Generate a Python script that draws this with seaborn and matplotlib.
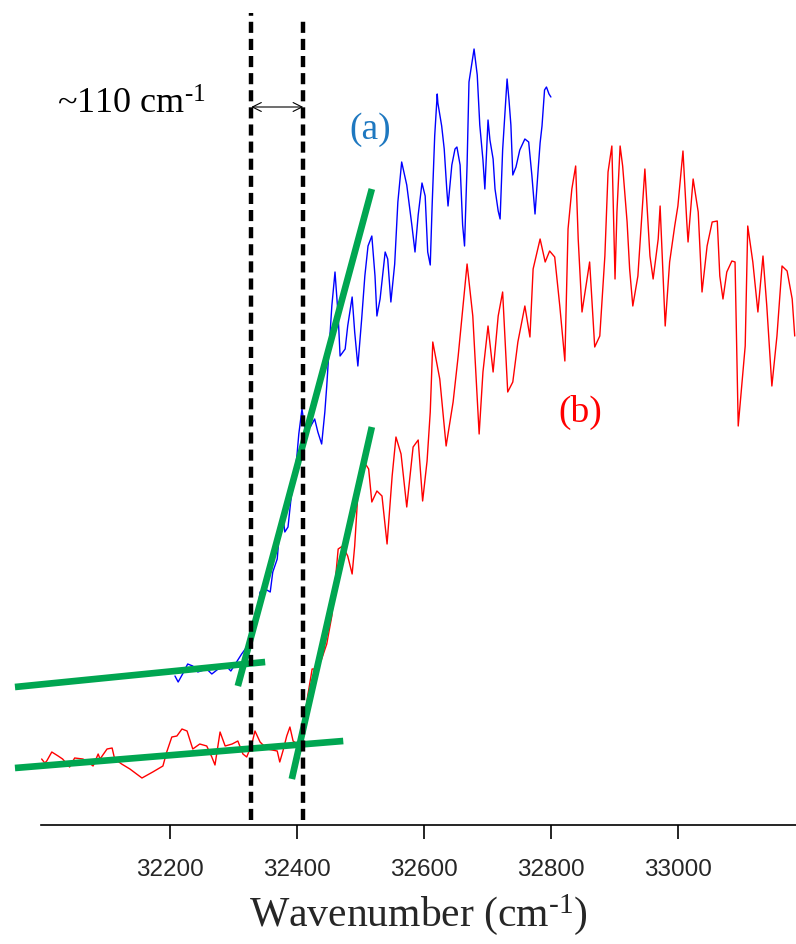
import numpy as np
import pandas as pd
import matplotlib
matplotlib.use("Agg")
import matplotlib.pyplot as plt
import seaborn as sns

# ---- spectrum (a): wavenumber (cm^-1) and intensity (a.u.) ----
wn_a = [32208, 32213, 32220, 32228, 32236, 32244, 32258, 32266, 32276, 32290,
        32296, 32306, 32313, 32321, 32329, 32337, 32342, 32350, 32358, 32362,
        32369, 32373, 32378, 32381, 32386, 32391, 32395, 32400, 32403, 32408,
        32413, 32421, 32428, 32433, 32439, 32444, 32447, 32450, 32455, 32460,
        32465, 32468, 32476, 32480, 32487, 32491, 32496, 32502, 32507, 32512,
        32518, 32523, 32526, 32531, 32539, 32543, 32548, 32554, 32559, 32565,
        32573, 32581, 32586, 32591, 32597, 32602, 32606, 32610, 32613, 32617,
        32621, 32622, 32628, 32632, 32636, 32638, 32644, 32649, 32652, 32657,
        32661, 32664, 32668, 32671, 32679, 32684, 32688, 32693, 32696, 32701,
        32704, 32709, 32712, 32717, 32720, 32724, 32731, 32734, 32737, 32740,
        32745, 32751, 32759, 32765, 32770, 32775, 32780, 32783, 32786, 32790,
        32793, 32797, 32800]
int_a = [14.9, 14.3, 15.1, 16.1, 15.9, 15.3, 15.6, 15.1, 15.6, 15.8,
         15.4, 16.4, 17.1, 17.8, 18.3, 20.6, 23.3, 23.6, 23.3, 25.3,
         26.6, 29.6, 30.9, 29.3, 29.8, 32.8, 34.1, 36.9, 39.1, 41.6,
         39.4, 39.8, 40.6, 39.3, 38.1, 41.3, 43.9, 46.9, 51.9, 55.3,
         50.9, 46.9, 47.6, 49.9, 52.8, 49.3, 45.9, 50.6, 54.9, 57.9,
         58.9, 54.9, 50.9, 52.6, 57.3, 56.6, 52.3, 56.1, 62.3, 66.3,
         64.0, 60.0, 57.3, 61.0, 64.2, 62.9, 57.3, 56.0, 62.0, 68.9,
         73.1, 72.2, 69.9, 67.6, 63.6, 61.9, 66.0, 67.6, 67.8, 66.0,
         60.0, 57.9, 66.0, 74.3, 77.6, 75.0, 70.0, 66.5, 63.6, 70.5,
         68.5, 66.6, 63.6, 61.4, 60.6, 67.5, 74.6, 72.5, 70.0, 65.0,
         65.8, 67.5, 68.6, 68.3, 65.0, 61.1, 65.6, 68.2, 69.9, 73.5,
         73.8, 73.1, 72.8]

# ---- spectrum (b) ----
wn_b = [31998, 32003, 32006, 32014, 32024, 32031, 32042, 32050, 32063, 32069,
        32079, 32087, 32090, 32101, 32109, 32113, 32124, 32137, 32156, 32173,
        32189, 32195, 32203, 32211, 32219, 32227, 32232, 32236, 32247, 32258,
        32266, 32271, 32279, 32287, 32298, 32307, 32315, 32321, 32329, 32334,
        32342, 32353, 32369, 32373, 32378, 32384, 32389, 32394, 32400, 32405,
        32411, 32417, 32424, 32430, 32439, 32447, 32455, 32460, 32465, 32472,
        32480, 32487, 32491, 32496, 32502, 32509, 32513, 32518, 32526, 32534,
        32542, 32550, 32556, 32564, 32573, 32583, 32591, 32598, 32605, 32610,
        32614, 32622, 32625, 32635, 32646, 32654, 32668, 32677, 32687, 32693,
        32701, 32709, 32717, 32724, 32732, 32740, 32748, 32759, 32767, 32772,
        32783, 32791, 32798, 32806, 32814, 32822, 32827, 32833, 32839, 32843,
        32849, 32857, 32861, 32869, 32877, 32885, 32890, 32896, 32901, 32904,
        32909, 32913, 32920, 32924, 32929, 32937, 32948, 32956, 32961, 32969,
        32972, 32980, 32987, 32995, 33000, 33008, 33014, 33016, 33024, 33032,
        33038, 33046, 33054, 33062, 33066, 33071, 33077, 33085, 33090, 33095,
        33106, 33110, 33118, 33126, 33134, 33140, 33148, 33156, 33164, 33172,
        33180, 33184]
int_b = [6.6, 6.2, 6.4, 7.3, 6.9, 6.6, 5.8, 6.7, 6.6, 6.4,
         5.9, 7.1, 6.6, 7.6, 7.7, 6.6, 6.1, 5.6, 4.7, 5.3,
         5.9, 7.3, 8.8, 8.9, 9.6, 9.4, 8.4, 7.6, 8.1, 7.9,
         6.8, 6.0, 9.3, 7.9, 8.1, 8.4, 7.1, 6.8, 8.1, 9.4,
         8.3, 7.6, 7.4, 6.3, 7.4, 8.9, 9.8, 8.4, 8.1, 8.3,
         10.1, 12.9, 15.6, 15.6, 16.6, 18.1, 20.9, 24.1, 27.6, 27.9,
         26.9, 25.1, 27.9, 33.1, 35.3, 36.0, 35.6, 32.3, 33.4, 32.9,
         28.1, 34.9, 38.8, 37.1, 31.8, 37.8, 38.5, 32.4, 36.4, 41.3,
         48.3, 45.6, 44.6, 37.9, 42.3, 46.9, 56.1, 50.9, 39.1, 45.3,
         49.9, 45.3, 50.9, 53.3, 43.3, 44.3, 48.3, 51.9, 48.8, 55.6,
         58.6, 56.3, 57.4, 56.8, 51.9, 46.4, 59.6, 63.6, 65.9, 58.6,
         51.3, 54.6, 56.3, 47.8, 48.9, 56.9, 65.3, 67.9, 54.6, 61.3,
         67.9, 65.9, 60.3, 55.6, 51.9, 54.9, 65.6, 56.9, 54.6, 58.6,
         61.9, 49.9, 56.3, 59.9, 61.9, 67.4, 60.3, 58.3, 64.6, 61.3,
         53.3, 57.9, 60.3, 60.4, 54.9, 52.6, 55.3, 56.4, 56.3, 39.9,
         47.9, 59.9, 56.3, 51.3, 56.9, 51.9, 43.9, 48.9, 55.9, 55.4,
         52.6, 48.9]

# ---- linear fits used to locate the onsets (start / end points) ----
base_a_x = [31956, 32350]
base_a_y = [13.8, 16.3]
rise_a_x = [32307, 32518]
rise_a_y = [13.9, 63.6]
base_b_x = [31956, 32473]
base_b_y = [5.7, 8.4]
rise_b_x = [32392, 32518]
rise_b_y = [4.6, 39.8]

# onset positions of (a) and (b)
onsets = [32328, 32410]
onset_top = [81.2, 80.8]

xticks = [32200, 32400, 32600, 32800, 33000]

sns.set_theme(style="white")
plt.rcParams["font.family"] = ["Liberation Serif", "DejaVu Serif"]
plt.rcParams["mathtext.fontset"] = "custom"
plt.rcParams["mathtext.rm"] = "Liberation Serif"
plt.rcParams["mathtext.it"] = "Liberation Serif:italic"
plt.rcParams["mathtext.bf"] = "Liberation Serif:bold"

# superscript with a short hyphen rather than a math minus
INV_CM = "$^{\u2010\\mathrm{1}}$"

fig = plt.figure(figsize=(7.96, 9.45), dpi=100)
ax = fig.add_axes([41 / 796, 119 / 945, 755 / 796, 826 / 945])

df_a = pd.DataFrame({"wn": wn_a, "I": int_a})
df_b = pd.DataFrame({"wn": wn_b, "I": int_b})
sns.lineplot(data=df_b, x="wn", y="I", color="#ff0000", lw=1.0,
             estimator=None, sort=False, ax=ax)
sns.lineplot(data=df_a, x="wn", y="I", color="#0000ff", lw=1.0,
             estimator=None, sort=False, ax=ax)

green = "#00a651"
for xs, ys in [(base_a_x, base_a_y), (rise_a_x, rise_a_y),
               (base_b_x, base_b_y), (rise_b_x, rise_b_y)]:
    ax.plot(xs, ys, color=green, lw=4.8, solid_capstyle="butt",
            clip_on=False, zorder=4)

for x0, top in zip(onsets, onset_top):
    ax.plot([x0, x0], [0.5, top], color="black", lw=3.2,
            dashes=(2.5, 1.35), clip_on=False, zorder=5)

ax.annotate("", xy=(onsets[0], 71.8), xytext=(onsets[1], 71.8),
            arrowprops=dict(arrowstyle="<->", color="black", lw=0.8,
                            mutation_scale=16, shrinkA=0, shrinkB=0),
            zorder=6)
ax.text(32022, 72.1, "~110 cm" + INV_CM, fontsize=26, color="black",
        ha="left", va="center")
ax.text(32515, 69.6, "(a)", fontsize=27, color="#1e78c0",
        ha="center", va="center")
ax.text(32846, 41.4, "(b)", fontsize=27, color="#ff0000",
        ha="center", va="center")

ax.set_xlim(31997, 33186)
ax.set_ylim(0, 82.6)
ax.set_yticks([])
ax.set_xticks(xticks)
ax.set_xticklabels([str(t) for t in xticks], fontfamily="Liberation Sans",
                   fontsize=17.5)
ax.tick_params(axis="x", direction="out", length=10, width=1.2,
               pad=14, color="black", bottom=True)
for side in ["left", "right", "top"]:
    ax.spines[side].set_visible(False)
ax.spines["bottom"].set_color("black")
ax.spines["bottom"].set_linewidth(1.2)
ax.set_xlabel("Wavenumber (cm" + INV_CM + ")", fontsize=30, labelpad=8)
ax.set_ylabel("")
ax.patch.set_alpha(0)

fig.savefig("out.png", dpi=100)
